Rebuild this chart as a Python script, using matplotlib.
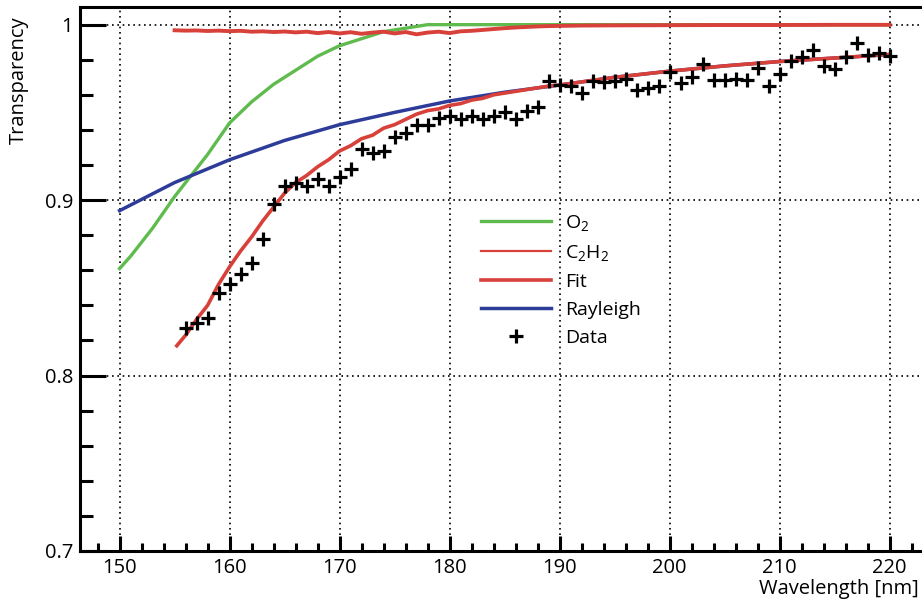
import matplotlib
matplotlib.use("Agg")
import matplotlib.pyplot as plt
from matplotlib.ticker import MultipleLocator, FixedLocator, FixedFormatter

plt.rcParams['font.family'] = ['Open Sans', 'DejaVu Sans']
plt.rcParams['mathtext.default'] = 'regular'

# ---------------- data ----------------
o2_wl = [150, 151, 152, 153, 154, 155, 156, 157, 158, 159, 160, 161, 162, 163, 164,
         165, 166, 167, 168, 169, 170, 171, 172, 173, 174, 175, 176, 177, 178, 179,
         180, 190, 200, 210, 220]
o2_val = [0.861, 0.868, 0.876, 0.884, 0.893, 0.902, 0.910, 0.918, 0.926, 0.935,
          0.944, 0.950, 0.956, 0.961, 0.966, 0.970, 0.974, 0.978, 0.982, 0.985,
          0.988, 0.990, 0.992, 0.994, 0.996, 0.997, 0.998, 0.999, 1.0, 1.0,
          1.0, 1.0, 1.0, 1.0, 1.0]

c2h2_wl = [155, 156, 157, 158, 159, 160, 161, 162, 163, 164, 165, 166, 167, 168,
           169, 170, 171, 172, 173, 174, 175, 176, 177, 178, 179, 180, 181, 182,
           183, 184, 185, 186, 187, 188, 189, 190, 192, 195, 200, 205, 210, 215, 220]
c2h2_val = [0.9968, 0.9966, 0.9967, 0.9964, 0.9966, 0.9963, 0.9965, 0.9960, 0.9962,
            0.9958, 0.9961, 0.9956, 0.9960, 0.9952, 0.9958, 0.9950, 0.9957, 0.9948,
            0.9955, 0.9960, 0.9950, 0.9958, 0.9945, 0.9955, 0.9960, 0.9952, 0.9962,
            0.9965, 0.9970, 0.9975, 0.9980, 0.9984, 0.9987, 0.9990, 0.9992, 0.9993,
            0.9995, 0.9996, 0.9997, 0.9998, 0.9998, 0.9999, 0.9999]

fit_wl = [155.2, 156, 157, 158, 159, 160, 161, 162, 163, 164, 165, 166, 167, 168,
          169, 170, 171, 172, 173, 174, 175, 176, 177, 178, 179, 180, 181, 182,
          183, 184, 185, 186, 187, 188, 189, 190, 195, 200, 205, 210, 215, 220]
fit_val = [0.817, 0.823, 0.832, 0.840, 0.852, 0.862, 0.871, 0.879, 0.888, 0.896,
           0.904, 0.910, 0.914, 0.919, 0.923, 0.928, 0.931, 0.935, 0.937, 0.941,
           0.943, 0.946, 0.949, 0.951, 0.952, 0.954, 0.955, 0.957, 0.958, 0.960,
           0.961, 0.962, 0.963, 0.964, 0.965, 0.9656, 0.970, 0.9735, 0.9765,
           0.979, 0.981, 0.983]

ray_wl = [150, 155, 160, 165, 170, 175, 180, 185, 190, 195, 200, 205, 210, 215, 220]
ray_val = [0.894, 0.910, 0.923, 0.934, 0.943, 0.950, 0.9565, 0.9615, 0.9656, 0.970,
           0.9735, 0.9765, 0.979, 0.981, 0.983]

data_wl = list(range(156, 221))
data_val = [0.827, 0.830, 0.833, 0.847, 0.852, 0.858, 0.864, 0.878, 0.898, 0.908,
            0.910, 0.908, 0.912, 0.908, 0.913, 0.918, 0.929, 0.927, 0.928, 0.936,
            0.938, 0.943, 0.943, 0.947, 0.948, 0.946, 0.948, 0.946, 0.948, 0.950,
            0.946, 0.951, 0.953, 0.968, 0.9656, 0.965, 0.961, 0.968, 0.9675, 0.968,
            0.969, 0.963, 0.964, 0.965, 0.973, 0.9666, 0.970, 0.9776, 0.9685, 0.9685,
            0.969, 0.9685, 0.9755, 0.965, 0.972, 0.9795, 0.9818, 0.9856, 0.9766,
            0.975, 0.9814, 0.9894, 0.9827, 0.984, 0.982]

y_ticks = [0.7, 0.8, 0.9, 1.0]
y_tick_labels = ["0.7", "0.8", "0.9", "1"]
x_ticks = [150, 160, 170, 180, 190, 200, 210, 220]
legend_labels = ['O$_2$', 'C$_2$H$_2$', 'Fit', 'Rayleigh', 'Data']

# ---------------- figure ----------------
fig = plt.figure(figsize=(9.22, 6.01), dpi=100)
ax = fig.add_axes([80/922, 50/601, 842/922, 543.7/601])

green = '#5fbb4e'
red = '#d8403a'
blue = '#2d3c99'

l_o2, = ax.plot(o2_wl, o2_val, color=green, lw=2.4, zorder=3)
l_c2, = ax.plot(c2h2_wl, c2h2_val, color=red, lw=2.8, zorder=4)
l_ray, = ax.plot(ray_wl, ray_val, color=blue, lw=2.5, zorder=3)
l_fit, = ax.plot(fit_wl, fit_val, color=red, lw=2.6, zorder=4)
l_dat, = ax.plot(data_wl, data_val, linestyle='none', marker='+', color='black',
                 markersize=9.5, markeredgewidth=2.3, zorder=5)

ax.set_xlim(146.4, 222.95)
ax.set_ylim(0.7, 1.0099)

ax.xaxis.set_major_locator(FixedLocator(x_ticks))
ax.xaxis.set_minor_locator(MultipleLocator(2))
ax.yaxis.set_major_locator(FixedLocator(y_ticks))
ax.yaxis.set_major_formatter(FixedFormatter(y_tick_labels))
ax.yaxis.set_minor_locator(MultipleLocator(0.02))

ax.tick_params(axis='both', which='both', direction='in', width=2.2,
               labelsize=14.5, color='black')
ax.tick_params(axis='y', which='major', length=19, pad=5)
ax.tick_params(axis='y', which='minor', length=9.5)
ax.tick_params(axis='x', which='major', length=11, pad=5)
ax.tick_params(axis='x', which='minor', length=5.5)

for s in ['left', 'bottom', 'top']:
    ax.spines[s].set_linewidth(2.2)
ax.spines['right'].set_visible(False)

ax.grid(True, which='major', color='black', linestyle=(0, (1, 2.2)), linewidth=1.2)
ax.set_axisbelow(True)

leg = ax.legend([l_o2, l_c2, l_fit, l_ray, l_dat], legend_labels,
                loc='upper left', bbox_to_anchor=(0.476, 0.622),
                frameon=False, fontsize=14, handlelength=3.6, handletextpad=0.75,
                labelspacing=0.52, borderpad=0, borderaxespad=0)
leg.get_lines()[1].set_linewidth(1.6)

fig.text(19/922, 1 - 16/601, 'Transparency', rotation=90, ha='center', va='top',
         fontsize=14.5)
fig.text(919/922, 1 - 594/601, 'Wavelength [nm]', ha='right', va='baseline',
         fontsize=14.5)

fig.savefig('out.png', dpi=100)
